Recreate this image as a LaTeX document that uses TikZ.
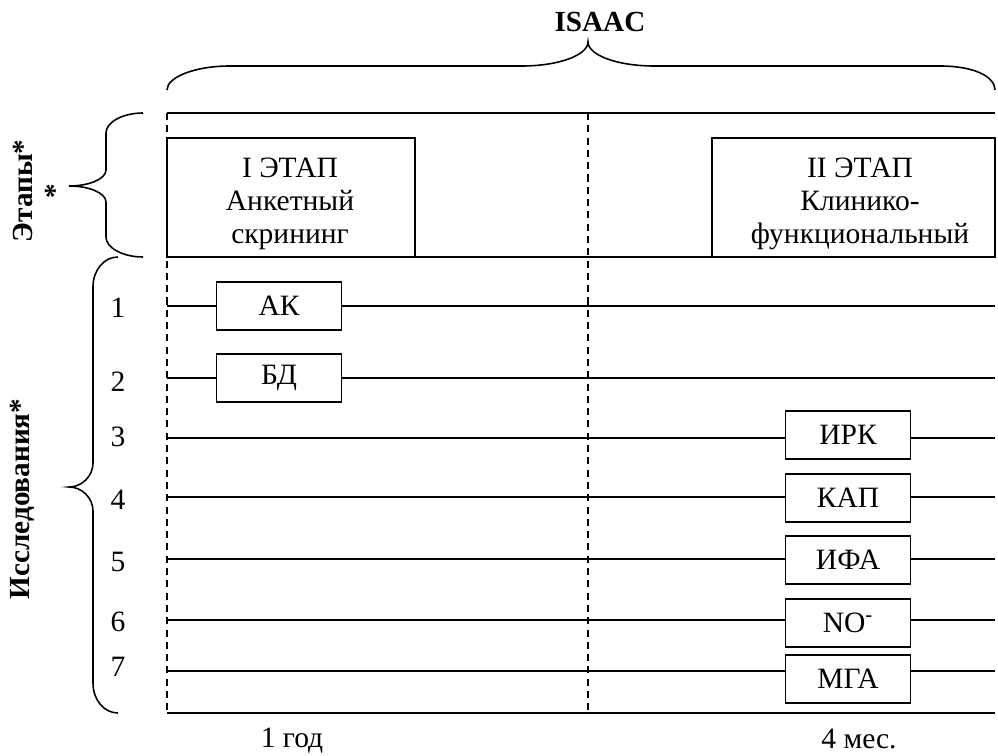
\documentclass[tikz,border=0pt]{standalone}
\usepackage{fontspec}
\setmainfont{Liberation Serif}
\usetikzlibrary{positioning}

\begin{document}
\begin{tikzpicture}[
        x=0.02cm, y=-0.02cm,
        every node/.style={font=\fontsize{16.8}{18.8}\selectfont},
        stage/.style={draw, line width=1pt, inner sep=0pt, align=center},
        test/.style={draw, line width=1pt, minimum width=2.5cm, minimum height=0.96cm, inner sep=0pt},
        caption/.style={font=\fontsize{16.6}{18.5}\selectfont\bfseries, align=center},
        rowline/.style={line width=0.9pt},
        border/.style={line width=1.4pt},
        divider/.style={line width=0.7pt, dash pattern=on 4pt off 3pt},
        curly/.style={line width=0.9pt}
    ]

    \useasboundingbox (0,0) rectangle (998,756);

    % corners of the time field
    \coordinate (tl) at (167,113);
    \coordinate (tr) at (995,113);
    \coordinate (bl) at (167,713);
    \coordinate (br) at (995,713);
    \coordinate (ml) at (167,257);
    \coordinate (mr) at (995,257);
    \coordinate (ct) at (588,113);
    \coordinate (cb) at (588,713);

    \draw[divider] (tl) -- (bl);
    \draw[divider] (ct) -- (cb);
    \draw[border] (tl) -- (tr);
    \draw[border] (bl) -- (br);
    \draw[rowline] (ml) -- (mr);

    % stages
    \node[stage, minimum width=4.96cm, minimum height=2.38cm] (stage1) at (291,197.5) {};
    \node[stage, minimum width=5.66cm, minimum height=2.38cm] (stage2) at (853.5,197.5) {};
    \node[align=center] (stage1txt) at (290,204) {I ЭТАП\\Анкетный\\скрининг};
    \node[align=center] (stage2txt) at (860,204) {II ЭТАП\\Клинико-\\функциональный};

    % examinations
    \foreach \n/\ly/\ry/\by/\bx/\lab in {1/308/306/306/279/АК, 2/382/378/378/279/БД,
            3/437/438/435/848/ИРК, 4/500/497/498/848/КАП, 5/562/559/560/848/ИФА,
            6/622/620/623/848/{NO\textsuperscript{-}}, 7/667/671/679/848/МГА} {
        \node (num\n) at (118,\ly) {\n};
        \node[test] (t\n) at (\bx,\by) {\lab};
        \coordinate (s\n) at (167,\ry);
        \coordinate (e\n) at (995,\ry);
        \draw[rowline] (s\n) -- (s\n -| t\n.west);
        \draw[rowline] (s\n -| t\n.east) -- (e\n);
    }

    % braces
    \draw[curly] (167,90) .. controls (167,77) and (195,66) .. (230,66) -- (522,66)
        .. controls (559,66) and (588,55) .. (588,42)
        .. controls (588,55) and (617,66) .. (654,66) -- (940,66)
        .. controls (975,66) and (995,77) .. (995,90);
    \draw[curly] (143,113) .. controls (123,113) and (106,122) .. (106,133) -- (106,170)
        .. controls (106,179) and (89,186) .. (69,186)
        .. controls (89,186) and (106,193) .. (106,202) -- (106,237)
        .. controls (106,248) and (123,257) .. (143,257);
    \draw[curly] (118,257) .. controls (104,257) and (93,270) .. (93,287) -- (93,463)
        .. controls (93,476) and (82,487) .. (69,487)
        .. controls (82,487) and (93,498) .. (93,511) -- (93,683)
        .. controls (93,700) and (104,713) .. (118,713);

    % captions
    \node[caption] (isaac) at (600,22) {ISAAC};
    \node[caption, rotate=90] (stages) at (39,191) {Этапы*\\*};
    \node[caption, rotate=90] (tests) at (22,499) {Исследования*};
    \node (year) at (292,741) {1 год};
    \node (months) at (859,739) {4 мес.};

\end{tikzpicture}
\end{document}
